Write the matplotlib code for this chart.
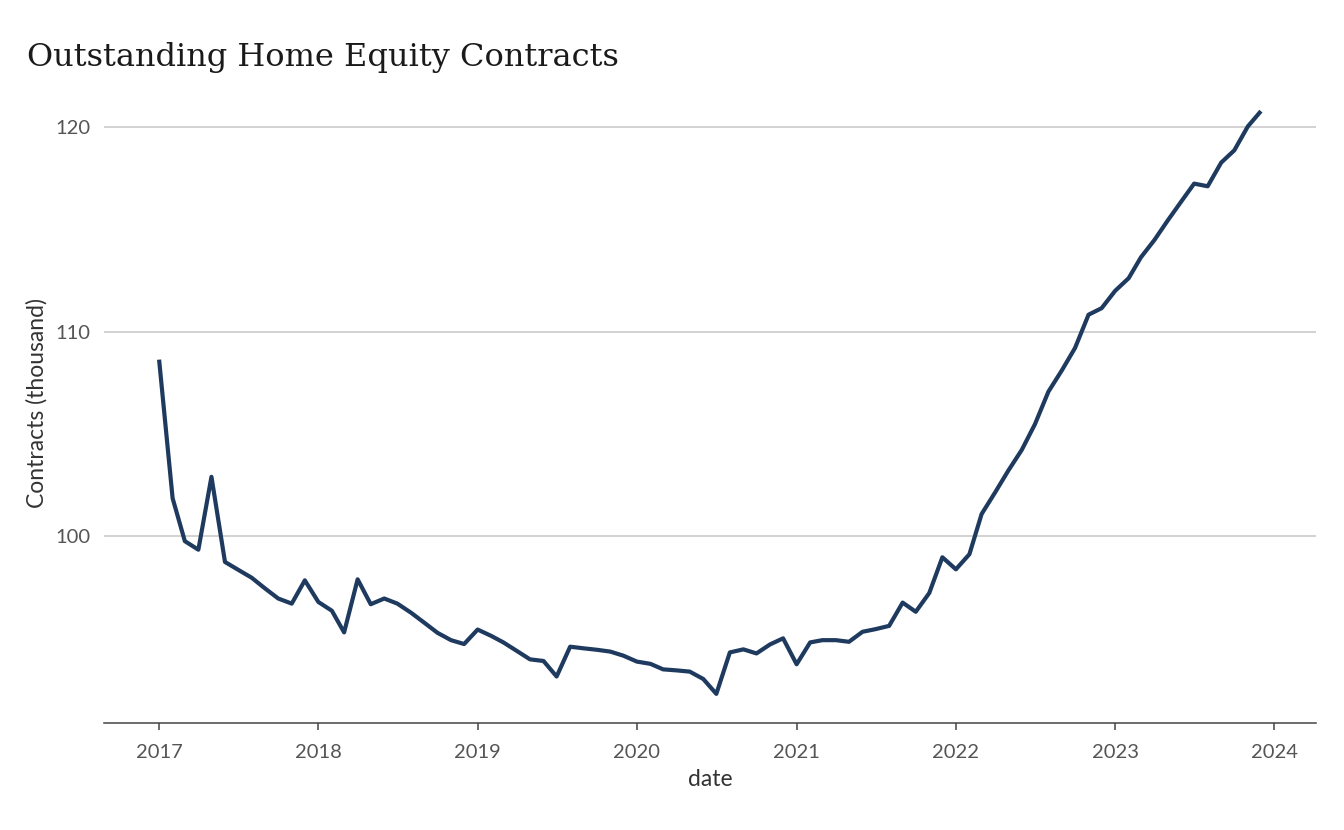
import matplotlib
matplotlib.use("Agg")
import matplotlib.pyplot as plt
import matplotlib.dates as mdates
import pandas as pd

# monthly outstanding contracts, thousand
dates = pd.date_range("2017-01-01", "2023-12-01", freq="MS")
contracts = [
    108.63, 101.84, 99.74, 99.32, 102.89, 98.72, 98.34, 97.95, 97.42, 96.93, 96.68, 97.82,
    96.76, 96.33, 95.27, 97.87, 96.65, 96.93, 96.68, 96.24, 95.74, 95.25, 94.89, 94.70,
    95.41, 95.10, 94.78, 94.36, 93.95, 93.87, 93.11, 94.57, 94.49, 94.42, 94.33, 94.13,
    93.84, 93.73, 93.46, 93.41, 93.35, 92.99, 92.26, 94.29, 94.44, 94.24, 94.68, 94.98,
    93.71, 94.78, 94.89, 94.89, 94.81, 95.30, 95.43, 95.59, 96.73, 96.28, 97.20, 98.95,
    98.36, 99.10, 101.07, 102.13, 103.19, 104.21, 105.46, 107.06, 108.11, 109.20, 110.83, 111.15,
    112.00, 112.62, 113.64, 114.49, 115.43, 116.36, 117.25, 117.12, 118.28, 118.88, 120.05, 120.80,
]
y_ticks = [100, 110, 120]
x_tick_years = list(range(2017, 2025))

fig = plt.figure(figsize=(13.44, 8.3), dpi=100)
ax = fig.add_axes([104 / 1344, 1 - 723 / 830, (1316 - 104) / 1344, (723 - 82) / 830])

ax.plot(dates, contracts, color="#1f3a5f", linewidth=3.0, solid_capstyle="butt", zorder=3)

# ggplot-like expansion of 5% on both axes
span = dates[-1] - dates[0]
ax.set_xlim(dates[0] - span * 0.05, dates[-1] + span * 0.05)
lo, hi = min(contracts), max(contracts)
ax.set_ylim(lo - (hi - lo) * 0.05, hi + (hi - lo) * 0.05)

ax.set_yticks(y_ticks)
ax.set_xticks([pd.Timestamp(f"{y}-01-01") for y in x_tick_years])
ax.xaxis.set_major_formatter(mdates.DateFormatter("%Y"))

ax.grid(axis="y", color="#d2d2d2", linewidth=1.4)
ax.grid(axis="x", visible=False)
for side in ["top", "right", "left"]:
    ax.spines[side].set_visible(False)
ax.spines["bottom"].set_color("#444444")
ax.spines["bottom"].set_linewidth(1.1)

ax.tick_params(axis="y", length=0, pad=10, labelsize=14.5, labelcolor="#555555")
ax.tick_params(axis="x", length=5, width=1.1, color="#444444", pad=10,
               labelsize=14.5, labelcolor="#555555")
for lab in ax.get_xticklabels() + ax.get_yticklabels():
    lab.set_fontfamily("Lato")

ax.set_xlabel("date", fontfamily="Lato", fontsize=16.5, color="#333333", labelpad=6)
ax.set_ylabel("Contracts (thousand)", fontfamily="Lato", fontsize=16.5, color="#333333", labelpad=5)

fig.text(27 / 1344, 1 - 66 / 830, "Outstanding Home Equity Contracts",
         fontfamily="DejaVu Serif", fontsize=23, color="#1a1a1a", va="baseline", ha="left")

fig.savefig("out.png", dpi=100, facecolor="white")
